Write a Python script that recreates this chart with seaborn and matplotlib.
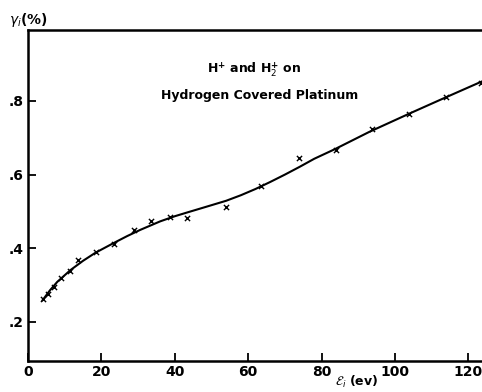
import matplotlib
matplotlib.use("Agg")
import matplotlib.pyplot as plt
import seaborn as sns
import pandas as pd

# measured points (x marks)
energy_pts = [4, 5.5, 7.2, 9.1, 11.4, 13.5, 18.6, 23.5, 28.8, 33.6, 38.6, 43.3,
              54.0, 63.5, 73.9, 83.8, 93.7, 103.8, 113.9, 123.3]
gamma_pts = [0.262, 0.276, 0.296, 0.320, 0.338, 0.367, 0.389, 0.412, 0.449, 0.475,
             0.486, 0.483, 0.511, 0.569, 0.644, 0.667, 0.723, 0.764, 0.811, 0.848]

# smooth curve drawn through the data
energy_curve = [3.9, 6, 8, 11.6, 15, 18.4, 23.3, 27, 30.6, 36, 40, 43.3, 48, 54, 58,
                62, 66, 70, 74, 78, 83.6, 93, 104, 113, 123.7]
gamma_curve = [0.258, 0.286, 0.309, 0.341, 0.366, 0.388, 0.414, 0.433, 0.450, 0.473,
               0.487, 0.497, 0.511, 0.529, 0.544, 0.561, 0.580, 0.600, 0.621, 0.643,
               0.669, 0.716, 0.766, 0.806, 0.853]

x_ticks = [0, 20, 40, 60, 80, 100, 120]
x_ticklabels = ["0", "20", "40", "60", "80", "100", "120"]
y_ticks = [0.2, 0.4, 0.6, 0.8]
y_ticklabels = [".2", ".4", ".6", ".8"]

sns.set_theme(style="white")
plt.rcParams['font.family'] = ['DejaVu Sans']
plt.rcParams['text.color'] = 'black'

fig = plt.figure(figsize=(4.82, 3.92), dpi=100)
ax = fig.add_axes([0.058, 0.079, 0.942, 0.844])

df_curve = pd.DataFrame({"E": energy_curve, "g": gamma_curve})
df_pts = pd.DataFrame({"E": energy_pts, "g": gamma_pts})

sns.lineplot(data=df_curve, x="E", y="g", ax=ax, color="black", lw=1.5, sort=True)
sns.scatterplot(data=df_pts, x="E", y="g", ax=ax, marker="x", color="black",
                s=14, linewidth=1.0)

ax.set_xlim(0, 123.7)
ax.set_ylim(0.094, 0.992)
ax.set_xticks(x_ticks)
ax.set_xticklabels(x_ticklabels)
ax.set_yticks(y_ticks)
ax.set_yticklabels(y_ticklabels)
ax.set_xlabel("")
ax.set_ylabel("")

for side in ["left", "bottom", "top"]:
    ax.spines[side].set_visible(True)
    ax.spines[side].set_color("black")
    ax.spines[side].set_linewidth(1.8)
ax.spines["right"].set_visible(False)

ax.tick_params(axis="both", direction="in", length=6, width=1.3, color="black",
               labelcolor="black", labelsize=10, pad=3)
ax.tick_params(axis="x", bottom=True, top=False)
ax.tick_params(axis="y", left=True, right=False)
for lab in ax.get_xticklabels() + ax.get_yticklabels():
    lab.set_fontweight("bold")
ax.grid(False)

fig.text(254 / 482, 1 - 70 / 392, r"H$^{\mathbf{+}}$ and H$_2^{\mathbf{+}}$ on",
         ha="center", va="center", fontsize=9, fontweight="bold", color="black")
fig.text(260 / 482, 1 - 95 / 392, "Hydrogen Covered Platinum",
         ha="center", va="center", fontsize=9, fontweight="bold", color="black")

fig.text(9 / 482, 1 - 20 / 392, r"$\gamma_i$(%)", ha="left", va="center",
         fontsize=10, fontweight="bold", color="black")
fig.text(357 / 482, 2 / 392, r"$\mathcal{E}_i$ (ev)", ha="center", va="bottom",
         fontsize=9, fontweight="bold", color="black")

fig.savefig("out.png", dpi=100)
